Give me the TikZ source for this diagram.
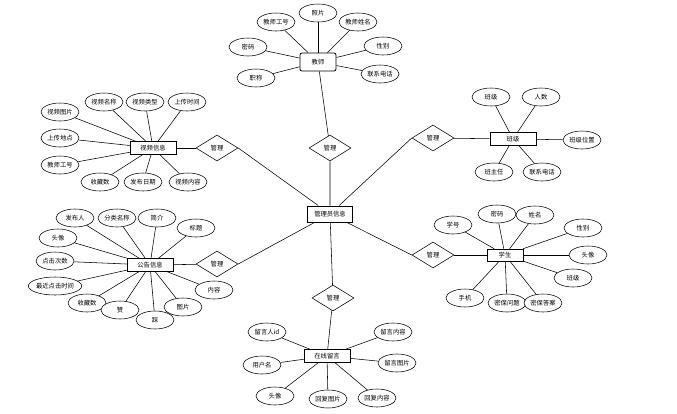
\documentclass[tikz,border=0pt]{standalone}
\usepackage{fontspec}
\newfontfamily\cjk{Noto Sans CJK SC}
\usetikzlibrary{shapes.geometric}

\begin{document}
\begin{tikzpicture}[x=1pt, y=-1pt, font=\cjk\fontsize{6.3}{7}\selectfont, line width=0.55pt]
    % Define styles
    \tikzstyle{entity} = [rectangle, draw, minimum width=46pt, minimum height=13pt, inner sep=1pt, fill=white]
    \tikzstyle{attr} = [ellipse, draw, minimum width=38pt, minimum height=18pt, inner sep=0pt, fill=white]
    \tikzstyle{rel} = [diamond, draw, minimum width=42pt, minimum height=26pt, inner sep=0pt, fill=white]
    \useasboundingbox (0,0) rectangle (677,413);

    % Entities
    \node [entity, line width=1pt, minimum width=45pt, minimum height=16pt] (admin) at (330,214) {管理员信息};
    \node [entity, rounded corners=2pt, line width=0.8pt, minimum width=36pt, minimum height=18pt] (teacher) at (318,62) {教师};
    \node [entity] (video) at (153,148) {视频信息};
    \node [entity] (class) at (513,139) {班级};
    \node [entity] (notice) at (150,265) {公告信息};
    \node [entity, minimum width=36pt, minimum height=12pt] (student) at (505,255) {学生};
    \node [entity] (message) at (327,356) {在线留言};

    % Relations
    \node [rel] (r1) at (330,148) {管理};
    \node [rel] (r2) at (217,148) {管理};
    \node [rel] (r3) at (433,138) {管理};
    \node [rel] (r4) at (217,264) {管理};
    \node [rel] (r5) at (433,255) {管理};
    \node [rel] (r6) at (333,298) {管理};

    % Teacher attributes
    \node [attr] (t1) at (276,22) {教师工号};
    \node [attr] (t2) at (318,13) {照片};
    \node [attr] (t3) at (358,22) {教师姓名};
    \node [attr] (t4) at (248,47) {密码};
    \node [attr] (t5) at (383,46) {性别};
    \node [attr] (t6) at (256,78) {职称};
    \node [attr] (t7) at (380,74) {联系电话};

    % Video attributes
    \node [attr] (v1) at (60,112) {视频图片};
    \node [attr] (v2) at (104,102) {视频名称};
    \node [attr] (v3) at (145,102) {视频类型};
    \node [attr] (v4) at (187,102) {上传时间};
    \node [attr] (v5) at (60,138) {上传地点};
    \node [attr] (v6) at (60,165) {教师工号};
    \node [attr] (v7) at (100,182) {收藏数};
    \node [attr] (v8) at (143,182) {发布日期};
    \node [attr] (v9) at (188,182) {视频内容};

    % Class attributes
    \node [attr] (c1) at (491,97) {班级};
    \node [attr] (c2) at (541,97) {人数};
    \node [attr] (c3) at (582,140) {班级位置};
    \node [attr] (c4) at (494,172) {班主任};
    \node [attr] (c5) at (542,172) {联系电话};

    % Notice attributes
    \node [attr] (n1) at (75,218) {发布人};
    \node [attr] (n2) at (117,218) {分类名称};
    \node [attr] (n3) at (157,218) {简介};
    \node [attr] (n4) at (196,228) {标题};
    \node [attr] (n5) at (58,238) {头像};
    \node [attr] (n6) at (55,261) {点击次数};
    \node [attr, minimum width=46pt] (n7) at (55,286) {最近点击时间};
    \node [attr] (n8) at (87,303) {收藏数};
    \node [attr] (n9) at (120,310) {赞};
    \node [attr] (n10) at (155,320) {踩};
    \node [attr] (n11) at (183,307) {图片};
    \node [attr] (n12) at (214,290) {内容};

    % Student attributes
    \node [attr] (s1) at (453,225) {学号};
    \node [attr] (s2) at (497,214) {密码};
    \node [attr] (s3) at (535,215) {姓名};
    \node [attr] (s4) at (583,228) {性别};
    \node [attr] (s5) at (588,255) {头像};
    \node [attr] (s6) at (573,278) {班级};
    \node [attr] (s7) at (465,298) {手机};
    \node [attr] (s8) at (507,303) {密保问题};
    \node [attr] (s9) at (543,303) {密保答案};

    % Message attributes
    \node [attr] (m1) at (267,332) {留言人id};
    \node [attr] (m2) at (262,365) {用户名};
    \node [attr] (m3) at (275,396) {头像};
    \node [attr] (m4) at (328,399) {回复图片};
    \node [attr] (m5) at (377,398) {回复内容};
    \node [attr] (m6) at (393,332) {留言内容};
    \node [attr] (m7) at (397,363) {留言图片};

    % Links
    \draw (admin) -- (r1) -- (teacher);
    \draw (admin) -- (r2.east); \draw (r2) -- (video);
    \draw (admin) -- (r3.west); \draw (r3) -- (class);
    \draw (admin) -- (r4.east); \draw (r4) -- (notice);
    \draw (admin) -- (r5.west); \draw (r5) -- (student);
    \draw (admin) -- (r6) -- (message);

    \draw (teacher) -- (t1); \draw (teacher) -- (t2); \draw (teacher) -- (t3);
    \draw (teacher) -- (t4); \draw (teacher) -- (t5); \draw (teacher) -- (t6);
    \draw (teacher) -- (t7);

    \draw (video) -- (v1); \draw (video) -- (v2); \draw (video) -- (v3);
    \draw (video) -- (v4); \draw (video) -- (v5); \draw (video) -- (v6);
    \draw (video) -- (v7); \draw (video) -- (v8); \draw (video) -- (v9);

    \draw (class) -- (c1); \draw (class) -- (c2); \draw (class) -- (c3);
    \draw (class) -- (c4); \draw (class) -- (c5);

    \draw (notice) -- (n1); \draw (notice) -- (n2); \draw (notice) -- (n3);
    \draw (notice) -- (n4); \draw (notice) -- (n5); \draw (notice) -- (n6);
    \draw (notice) -- (n7); \draw (notice) -- (n8); \draw (notice) -- (n9);
    \draw (notice) -- (n10); \draw (notice) -- (n11); \draw (notice) -- (n12);

    \draw (student) -- (s1); \draw (student) -- (s2); \draw (student) -- (s3);
    \draw (student) -- (s4); \draw (student) -- (s5); \draw (student) -- (s6);
    \draw (student) -- (s7); \draw (student) -- (s8); \draw (student) -- (s9);

    \draw (message) -- (m1); \draw (message) -- (m2); \draw (message) -- (m3);
    \draw (message) -- (m4); \draw (message) -- (m5); \draw (message) -- (m6);
    \draw (message) -- (m7);
\end{tikzpicture}
\end{document}
